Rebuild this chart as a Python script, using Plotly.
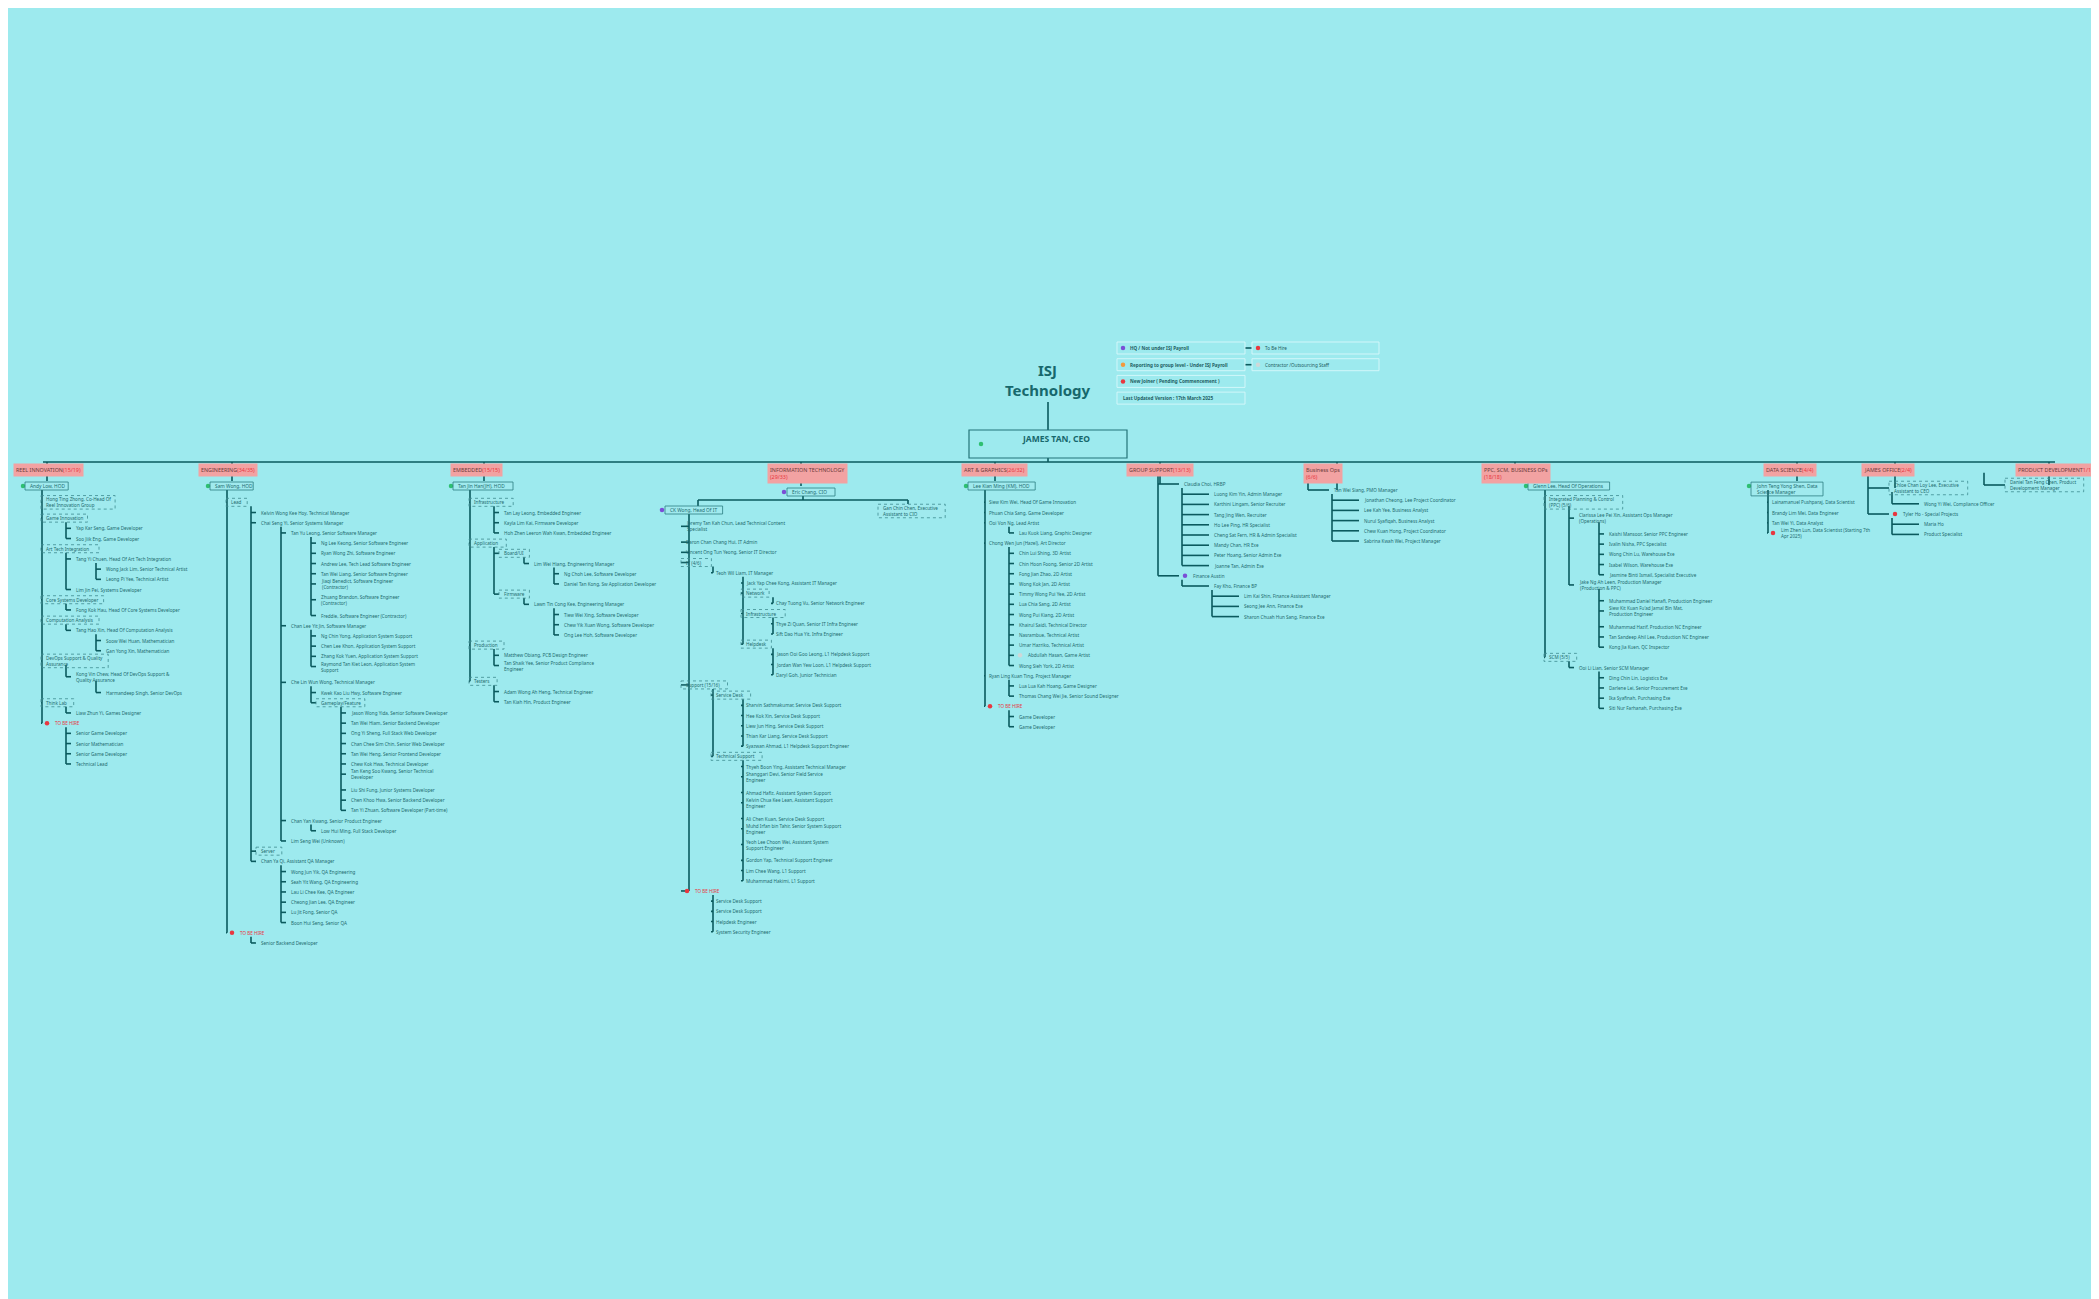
import plotly.graph_objects as go

BG = "#9deaee"
LINE = "#0b5a5e"
TXT = "#1d6a6f"
RED = "#e8373f"
FONT = "Noto Sans"

# ---------------- data ----------------
departments = ["REEL INNOVATION", "ENGINEERING", "EMBEDDED", "INFORMATION TECHNOLOGY<br>", "ART & GRAPHICS",
               "GROUP SUPPORT", "Business Ops<br>", "PPC, SCM, BUSINESS OPs<br>", "DATA SCIENCE",
               "JAMES OFFICE", "PRODUCT DEVELOPMENT"]
dept_counts = ["(15/19)", "(34/35)", "(15/15)", "(29/33)", "(26/32)", "(13/13)", "(6/6)", "(18/18)",
               "(4/4)", "(2/4)", "1/1"]
dept_heads = ["Andy Low, HOD", "Sam Wong, HOD", "Tan Jin Han(JH), HOD", "Eric Chang, CIO",
              "Lee Kian Ming (KM), HOD", None, None, "Glenn Lee, Head Of Operations",
              "John Teng Yong Shen, Data Science Manager", None, None]

reel_staff = [
    (1, "Hong Ting Zhong, Co-Head Of Reel Innovation Group", "g"),
    (1, "Game Innovation", "g"),
    (2, "Yap Kar Seng, Game Developer", "p"),
    (2, "Soo Jiik Eng, Game Developer", "p"),
    (1, "Art Tech Integration", "g"),
    (2, "Tang Yi Chuen, Head Of Art Tech Integration", "p"),
    (3, "Wong Jack Lim, Senior Technical Artist", "p"),
    (3, "Leong Pi Yee, Technical Artist", "p"),
    (2, "Lim Jin Pei, Systems Developer", "p"),
    (1, "Core Systems Developer", "g"),
    (2, "Fong Kok Hau, Head Of Core Systems Developer", "p"),
    (1, "Computation Analysis", "g"),
    (2, "Tang Hao Xin, Head Of Computation Analysis", "p"),
    (3, "Soow Wei Huan, Mathematician", "p"),
    (3, "Gan Yong Xin, Mathematician", "p"),
    (1, "DevOps Support & Quality Assurance", "g"),
    (2, "Kong Vin Chew, Head Of DevOps Support & Quality Assurance", "p"),
    (3, "Harmandeep Singh, Senior DevOps", "p"),
    (1, "Think Lab", "g"),
    (2, "Liaw Zhun Yi, Games Designer", "p"),
    (1, "TO BE HIRE", "h"),
    (2, "Senior Game Developer", "p"),
    (2, "Senior Mathematician", "p"),
    (2, "Senior Game Developer", "p"),
    (2, "Technical Lead", "p"),
]

eng_staff = [
    (1, "Lead", "g"),
    (2, "Kelvin Wong Kee Hoy, Technical Manager", "p"),
    (2, "Chai Seng Yi, Senior Systems Manager", "p"),
    (3, "Tan Yu Leong, Senior Software Manager", "p"),
    (4, "Ng Lee Keong, Senior Software Engineer", "p"),
    (4, "Ryan Wong Zhi, Software Engineer", "p"),
    (4, "Andrew Lee, Tech Lead Software Engineer", "p"),
    (4, "Tan Wei Liang, Senior Software Engineer", "p"),
    (4, "Jiaqi Benedict, Software Engineer (Contractor)", "p"),
    (4, "Zhuang Brandon, Software Engineer (Contractor)", "p"),
    (4, "Freddie, Software Engineer (Contractor)", "p"),
    (3, "Chan Lee Yit Jin, Software Manager", "p"),
    (4, "Ng Chin Yong, Application System Support", "p"),
    (4, "Chen Lee Khon, Application System Support", "p"),
    (4, "Zhang Kok Yuen, Application System Support", "p"),
    (4, "Raymond Tan Kiet Leon, Application System Support", "p"),
    (3, "Che Lin Wun Wong, Technical Manager", "p"),
    (4, "Kwek Kao Liu Hwy, Software Engineer", "p"),
    (4, "Gameplay/Feature", "g"),
    (5, "Jason Wong Yida, Senior Software Developer", "p"),
    (5, "Tan Wei Hiam, Senior Backend Developer", "p"),
    (5, "Ong Yi Sheng, Full Stack Web Developer", "p"),
    (5, "Chan Chee Sim Chin, Senior Web Developer", "p"),
    (5, "Tan Wei Heng, Senior Frontend Developer", "p"),
    (5, "Chew Kok Hwa, Technical Developer", "p"),
    (5, "Tan Keng Soo Kwang, Senior Technical Developer", "p"),
    (5, "Liu Shi Fung, Junior Systems Developer", "p"),
    (5, "Chen Khoo Hwa, Senior Backend Developer", "p"),
    (5, "Tan Yi Zhuan, Software Developer (Part-time)", "p"),
    (3, "Chan Yan Kwang, Senior Product Engineer", "p"),
    (4, "Low Hui Ming, Full Stack Developer", "p"),
    (3, "Lim Seng Wei (Unknown)", "p"),
    (2, "Server", "g"),
    (2, "Chan Ya Qi, Assistant QA Manager", "p"),
    (3, "Wong Jun Yik, QA Engineering", "p"),
    (3, "Seah Yit Wang, QA Engineering", "p"),
    (3, "Lau Li Chee Kee, QA Engineer", "p"),
    (3, "Cheong Jian Lee, QA Engineer", "p"),
    (3, "Lu Jit Fong, Senior QA", "p"),
    (3, "Boon Hui Seng, Senior QA", "p"),
    (1, "TO BE HIRE", "h"),
    (2, "Senior Backend Developer", "p"),
]

emb_staff = [
    (1, "Infrastructure", "g"),
    (2, "Tan Lay Leong, Embedded Engineer", "p"),
    (2, "Kayla Lim Kai, Firmware Developer", "p"),
    (2, "Hoh Zhen Leeron Wah Kwan, Embedded Engineer", "p"),
    (1, "Application", "g"),
    (2, "Board/UI", "g"),
    (3, "Lim Wei Hiang, Engineering Manager", "p"),
    (4, "Ng Choh Lee, Software Developer", "p"),
    (4, "Daniel Tan Kong, Sw Application Developer", "p"),
    (2, "Firmware", "g"),
    (3, "Lawn Tin Cong Kee, Engineering Manager", "p"),
    (4, "Tiew Wei Xing, Software Developer", "p"),
    (4, "Chew Yik Xuan Wong, Software Developer", "p"),
    (4, "Ong Lee Hoh, Software Developer", "p"),
    (1, "Production", "g"),
    (2, "Matthew Obiang, PCB Design Engineer", "p"),
    (2, "Tan Shaik Yee, Senior Product Compliance Engineer", "p"),
    (1, "Testers", "g"),
    (2, "Adam Wong Ah Heng, Technical Engineer", "p"),
    (2, "Tan Kiah Hin, Product Engineer", "p"),
]

it_head_of_it = "CK Wong, Head Of IT"
it_assistant = "Gan Chin Chen, Executive Assistant to CIO"
it_staff = [
    (1, "Jeremy Tan Kah Chun, Lead Technical Content Specialist", "p"),
    (1, "Daron Chan Chang Hui, IT Admin", "p"),
    (1, "Vincent Ong Tun Yeong, Senior IT Director", "p"),
    (1, "IT (4/6)", "g"),
    (2, "Teoh Wil Liam, IT Manager", "p"),
    (3, "Jack Yap Chee Kong, Assistant IT Manager", "p"),
    (3, "Network", "g"),
    (4, "Chay Tuong Vu, Senior Network Engineer", "p"),
    (3, "Infrastructure", "g"),
    (4, "Thye Zi Quan, Senior IT Infra Engineer", "p"),
    (4, "Sift Dao Hua Yit, Infra Engineer", "p"),
    (3, "Helpdesk", "g"),
    (4, "Jason Ooi Goo Leong, L1 Helpdesk Support", "p"),
    (4, "Jordan Wan Yew Loon, L1 Helpdesk Support", "p"),
    (4, "Daryl Goh, Junior Technician", "p"),
    (1, "Support (15/16)", "g"),
    (2, "Service Desk", "g"),
    (3, "Sharvin Sathmakumar, Service Desk Support", "p"),
    (3, "Hee Kok Xin, Service Desk Support", "p"),
    (3, "Liew Jun Hing, Service Desk Support", "p"),
    (3, "Thian Kar Liang, Service Desk Support", "p"),
    (3, "Syazwan Ahmad, L1 Helpdesk Support Engineer", "p"),
    (2, "Technical Support", "g"),
    (3, "Thyeh Boon Ying, Assistant Technical Manager", "p"),
    (3, "Shanggari Devi, Senior Field Service Engineer", "p"),
    (3, "Ahmad Hafiz, Assistant System Support", "p"),
    (3, "Kelvin Chua Kee Lean, Assistant Support Engineer", "p"),
    (3, "Ali Chen Kuan, Service Desk Support", "p"),
    (3, "Muhd Irfan bin Tahir, Senior System Support Engineer", "p"),
    (3, "Yeoh Lee Choon Wei, Assistant System Support Engineer", "p"),
    (3, "Gordon Yap, Technical Support Engineer", "p"),
    (3, "Lim Chee Wang, L1 Support", "p"),
    (3, "Muhammad Hakimi, L1 Support", "p"),
    (1, "TO BE HIRE", "h"),
    (2, "Service Desk Support", "p"),
    (2, "Service Desk Support", "p"),
    (2, "Helpdesk Engineer", "p"),
    (2, "System Security Engineer", "p"),
]

art_staff = [
    (1, "Siew Kim Wei, Head Of Game Innovation", "p"),
    (1, "Phuan Chia Sang, Game Developer", "p"),
    (1, "Ooi Von Ng, Lead Artist", "p"),
    (2, "Lau Kuok Liang, Graphic Designer", "p"),
    (1, "Chong Wen Jun (Hazel), Art Director", "p"),
    (2, "Chin Lui Shing, 3D Artist", "p"),
    (2, "Chin Hoon Foong, Senior 2D Artist", "p"),
    (2, "Fong Jian Zhao, 2D Artist", "p"),
    (2, "Wong Kok Jan, 2D Artist", "p"),
    (2, "Timmy Wong Pui Yee, 2D Artist", "p"),
    (2, "Lua Chia Sang, 2D Artist", "p"),
    (2, "Wong Pui Kiang, 2D Artist", "p"),
    (2, "Khairul Saidi, Technical Director", "p"),
    (2, "Nasrambue, Technical Artist", "p"),
    (2, "Umar Hazriko, Technical Artist", "p"),
    (2, "Abdullah Hasan, Game Artist", "c"),
    (2, "Wong Sieh York, 2D Artist", "p"),
    (1, "Ryan Ling Kuan Ting, Project Manager", "p"),
    (2, "Lua Lua Kah Hoang, Game Designer", "p"),
    (2, "Thomas Chang Wei Jie, Senior Sound Designer", "p"),
    (1, "TO BE HIRE", "h"),
    (2, "Game Developer", "p"),
    (2, "Game Developer", "p"),
]

group_support_staff = [
    (1, "Claudia Choi, HRBP", "p"),
    (2, "Luong Kim Yin, Admin Manager", "p"),
    (2, "Karthini Lingam, Senior Recruiter", "p"),
    (2, "Tang Jing Wen, Recruiter", "p"),
    (2, "Ho Lee Ping, HR Specialist", "p"),
    (2, "Cheng Sat Fern, HR & Admin Specialist", "p"),
    (2, "Mandy Chan, HR Exe", "p"),
    (2, "Peter Hoang, Senior Admin Exe", "p"),
    (2, "Joanne Tan, Admin Exe", "p"),
    (1, "Finance Austin", "q"),
    (2, "Fay Kho, Finance BP", "p"),
    (3, "Lim Kai Shin, Finance Assistant Manager", "p"),
    (3, "Seong Jee Ann, Finance Exe", "p"),
    (3, "Sharon Chuah Hun Sang, Finance Exe", "p"),
]

business_ops_staff = [
    (1, "Tan Wei Siang, PMO Manager", "p"),
    (2, "Jonathan Cheong, Lee Project Coordinator", "p"),
    (2, "Lee Kah Yee, Business Analyst", "p"),
    (2, "Nurul Syafiqah, Business Analyst", "p"),
    (2, "Chew Kuan Hong, Project Coordinator", "p"),
    (2, "Sabrina Kwah Wei, Project Manager", "p"),
]

ppc_staff = [
    (1, "Integrated Planning & Control (PPC) (5/6)", "g"),
    (2, "Clarissa Lee Pei Xin, Assistant Ops Manager (Operations)", "p"),
    (3, "Kaishi Mansoor, Senior PPC Engineer", "p"),
    (3, "Ivalin Nisha, PPC Specialist", "p"),
    (3, "Wong Chin Lu, Warehouse Exe", "p"),
    (3, "Isabel Wilson, Warehouse Exe", "p"),
    (3, "Jasmine Binti Ismail, Specialist Executive", "p"),
    (2, "Jake Ng Ah Leen, Production Manager (Production & PPC)", "p"),
    (3, "Muhammad Daniel Hanafi, Production Engineer", "p"),
    (3, "Siew Kit Kuan Fu'ad Jamal Bin Mat, Production Engineer", "p"),
    (3, "Muhammad Hazif, Production NC Engineer", "p"),
    (3, "Tan Sandeep Ahil Lee, Production NC Engineer", "p"),
    (3, "Kong Jia Kuen, QC Inspector", "p"),
    (1, "SCM (5/5)", "g"),
    (2, "Ooi Li Lian, Senior SCM Manager", "p"),
    (3, "Ding Chin Lin, Logistics Exe", "p"),
    (3, "Darlene Lei, Senior Procurement Exe", "p"),
    (3, "Ika Syafinah, Purchasing Exe", "p"),
    (3, "Siti Nur Farhanah, Purchasing Exe", "p"),
]

data_science_staff = [
    (1, "Lainamanuel Pushparaj, Data Scientist", "p"),
    (1, "Brandy Lim Mei, Data Engineer", "p"),
    (1, "Tan Wei Yi, Data Analyst", "p"),
    (1, "Lim Zhen Lun, Data Scientist (Starting 7th Apr 2025)", "n"),
]

james_office_staff = [
    (1, "Chloe Chan Loy Lee, Executive Assistant to CEO", "g"),
    (2, "Wong Yi Wei, Compliance Officer", "p"),
    (1, "Tyler Ho - Special Projects", "h2"),
    (2, "Maria Ho", "p"),
    (2, "Product Specialist", "p"),
]

product_dev_staff = [
    (1, "Daniel Tan Feng Chen, Product Development Manager", "g"),
]

legend_left = ["HQ / Not under ISJ Payroll", "Reporting to group level - Under ISJ Payroll",
               "New Joiner ( Pending Commencement )", "Last Updated Version : 17th March 2025"]
legend_left_dots = ["#7a4fd6", "#f39a3d", RED, None]
legend_right = ["To Be Hire", "Contractor /Outsourcing Staff"]
legend_right_dots = [RED, "#cfd8d8"]

# ---------------- layout helpers ----------------
STEP = 10.2
INDENT = 30
FS = 4.6

annotations = []
shapes = []
lx, ly = [], []
dots = {"x": [], "y": [], "c": []}


def seg(x0, y0, x1, y1):
    lx.extend([x0, x1, None])
    ly.extend([y0, y1, None])


def wrap(text, width=44):
    if len(text) <= width:
        return text, 1
    cut = text.rfind(" ", 0, width)
    return text[:cut] + "<br>" + text[cut + 1:], 2


def box(x, y, text, dashed=False, fs=FS, color=TXT, w=None, h=8):
    w = w or len(text.replace("<br>", "")) * fs * 0.5 + 12
    if "<br>" in text:
        w = max(len(p) for p in text.split("<br>")) * fs * 0.5 + 12
        h = h + fs * 1.2
    shapes.append(dict(type="rect", x0=x - 3, x1=x - 3 + w, y0=y - h / 2, y1=y + h / 2,
                       line=dict(color="#2c7e82" if not dashed else "#3d8c90", width=0.8,
                                 dash="dot" if dashed else "solid"),
                       fillcolor="rgba(255,255,255,0.04)"))
    label(x, y, text, fs, color)


def label(x, y, text, fs=FS, color=TXT):
    annotations.append(dict(x=x, y=y, text=text, showarrow=False, xanchor="left", yanchor="middle",
                            font=dict(size=fs, color=color, family=FONT), align="left"))


def draw_tree(rx, ry, items, spine_dx=10):
    nodes = [dict(x=rx, y=ry, d=0, last=None)]
    y = ry + STEP * 1.6
    for d, text, kind in items:
        t, n = wrap(text, 32 if kind == "g" else 44)
        x = rx + d * INDENT - 6
        node = dict(x=x, y=y, d=d, last=None)
        parent = [p for p in nodes if p["d"] == d - 1][-1]
        sx = parent["x"] + spine_dx
        seg(sx, y, x - 3, y)
        parent["last"] = y
        nodes.append(node)
        if kind == "g":
            box(x, y, t, dashed=True)
        elif kind in ("h", "h2", "q"):
            c = RED if kind != "q" else "#7a4fd6"
            dots["x"].append(x + 3); dots["y"].append(y); dots["c"].append(c)
            label(x + 9, y, text, FS, RED if kind == "h" else TXT)
        elif kind in ("c", "n"):
            dots["x"].append(x + 3); dots["y"].append(y); dots["c"].append("#cfd8d8" if kind == "c" else RED)
            label(x + 9, y, t)
        else:
            label(x, y, t)
        y += STEP * (1 if n == 1 else 1.55)
    for p in nodes:
        if p["last"] is not None:
            sx = p["x"] + spine_dx
            seg(sx, p["y"] + 4, sx, p["last"])
    return nodes


# ---------------- build ----------------
header_x = [5, 190, 442, 759, 953, 1118, 1295, 1473, 1755, 1853, 2007]
HEAD_Y = 462
BAR_Y = 454
root_y = 478
seg(header_x[0] + 30, BAR_Y, header_x[-1] + 40, BAR_Y)

for i, (name, cnt) in enumerate(zip(departments, dept_counts)):
    x = header_x[i]
    br = "<br>" in name
    txt = name + "<span style='color:%s'>%s</span>" % (RED, cnt)
    annotations.append(dict(x=x, y=HEAD_Y + (3 if br else 0), text=txt, showarrow=False, xanchor="left",
                            yanchor="middle", bgcolor="#f2a2a2", borderpad=2,
                            font=dict(size=5.4, color="#6b3a3a", family=FONT), align="left"))

cols = [
    (0, 12, reel_staff),
    (1, 197, eng_staff),
    (2, 440, emb_staff),
    (4, 955, art_staff),
    (7, 1515, ppc_staff),
    (8, 1738, data_science_staff),
]
for i, rx, items in cols:
    cx = header_x[i] + 34
    seg(cx, BAR_Y, cx, root_y - 5)
    t, _ = wrap(dept_heads[i], 30)
    box(rx + 8, root_y + (3 if "<br>" in t else 0), t, fs=4.8)
    dots["x"].append(rx + 3); dots["y"].append(root_y); dots["c"].append("#2fbf71")
    draw_tree(rx, root_y, items, spine_dx=22)

# IT column: CIO with head of IT and assistant
cx = header_x[3] + 34
seg(cx, BAR_Y, cx, 478)
box(782, 484, dept_heads[3], fs=4.8)
dots["x"].append(776); dots["y"].append(484); dots["c"].append("#7a4fd6")
seg(690, 492, 900, 492)
seg(795, 488, 795, 492)
seg(690, 492, 690, 498)
seg(900, 492, 900, 496)
box(660, 502, it_head_of_it, fs=4.8)
dots["x"].append(654); dots["y"].append(502); dots["c"].append("#7a4fd6")
box(873, 503, wrap(it_assistant, 32)[0], dashed=True)
draw_tree(652, 502, it_staff, spine_dx=29)

# columns without a head box
for i, rx, ry, items in [(5, 1150, 476, group_support_staff), (6, 1300, 482, business_ops_staff),
                         (9, 1860, 480, james_office_staff), (10, 1976, 477, product_dev_staff)]:
    cx = header_x[i] + 34
    seg(cx, BAR_Y, cx, ry)
    draw_tree(rx, ry - STEP * 1.6, items, spine_dx=0)

# title, CEO, legend
annotations.append(dict(x=1040, y=372, text="<b>ISJ<br>Technology</b>", showarrow=False,
                        font=dict(size=15, color="#17686c", family=FONT)))
seg(1040, 394, 1040, 422)
seg(1040, 450, 1040, BAR_Y)
shapes.append(dict(type="rect", x0=961, x1=1119, y0=422, y1=450, line=dict(color="#237378", width=1.2)))
annotations.append(dict(x=1048, y=431, text="<b>JAMES TAN, CEO</b>", showarrow=False,
                        font=dict(size=8.5, color="#17686c", family=FONT)))
dots["x"].append(973); dots["y"].append(436); dots["c"].append("#2fbf71")

for k, (t, c) in enumerate(zip(legend_left, legend_left_dots)):
    y = 340 + k * 16.7
    shapes.append(dict(type="rect", x0=1109, x1=1237, y0=y - 6, y1=y + 6, line=dict(color="#d8f8fa", width=0.9)))
    if c:
        dots["x"].append(1115); dots["y"].append(y); dots["c"].append(c)
    label(1120 if c else 1113, y, "<b>" + t + "</b>", 4.6, "#1d5e63")
for k, (t, c) in enumerate(zip(legend_right, legend_right_dots)):
    y = 340 + k * 16.7
    seg(1237, y, 1244, y)
    shapes.append(dict(type="rect", x0=1244, x1=1371, y0=y - 6, y1=y + 6, line=dict(color="#d8f8fa", width=0.9)))
    dots["x"].append(1250); dots["y"].append(y); dots["c"].append(c)
    label(1255, y, t, 4.6, "#1d5e63")

fig = go.Figure()
fig.add_trace(go.Scatter(x=lx, y=ly, mode="lines", line=dict(color=LINE, width=1.6), hoverinfo="skip"))
fig.add_trace(go.Scatter(x=dots["x"], y=dots["y"], mode="markers",
                         marker=dict(color=dots["c"], size=4.5), hoverinfo="skip"))
fig.update_layout(
    width=2099, height=1299, margin=dict(l=0, r=0, t=0, b=0),
    paper_bgcolor=BG, plot_bgcolor=BG, showlegend=False,
    xaxis=dict(range=[0, 2099], visible=False),
    yaxis=dict(range=[1299, 0], visible=False),
    annotations=annotations, shapes=shapes,
)
fig.write_html("out.html")
